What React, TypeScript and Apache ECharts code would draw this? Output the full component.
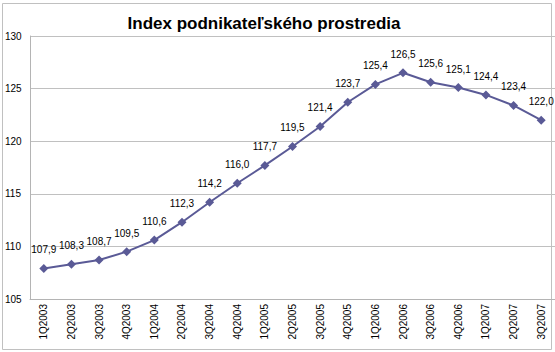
import React, { useEffect, useRef } from "react";
import * as echarts from "echarts";

const categories = [
  "1Q2003", "2Q2003", "3Q2003", "4Q2003",
  "1Q2004", "2Q2004", "3Q2004", "4Q2004",
  "1Q2005", "2Q2005", "3Q2005", "4Q2005",
  "1Q2006", "2Q2006", "3Q2006", "4Q2006",
  "1Q2007", "2Q2007", "3Q2007",
];
const indexValues = [
  107.9, 108.3, 108.7, 109.5,
  110.6, 112.3, 114.2, 116.0,
  117.7, 119.5, 121.4, 123.7,
  125.4, 126.5, 125.6, 125.1,
  124.4, 123.4, 122.0,
];
const titleText = "Index podnikateľského prostredia";

const FONT = "'Liberation Sans', Arial, sans-serif";

export default function App() {
  const ref = useRef<HTMLDivElement>(null);
  useEffect(() => {
    document.body.style.margin = "0";
    if (!ref.current) return;
    const chart = echarts.init(ref.current, undefined, { renderer: "svg" });
    chart.setOption({
      animation: false,
      backgroundColor: "#ffffff",
      title: {
        text: titleText,
        left: 259,
        textAlign: "center",
        top: 10,
        textStyle: { fontFamily: FONT, fontSize: 17, fontWeight: "bold", color: "#000" },
      },
      graphic: [
        {
          type: "rect",
          z: -10,
          shape: { x: 2.5, y: 3.5, width: 549, height: 346 },
          style: { fill: "none", stroke: "#c0c0c0", lineWidth: 1 },
        },
      ],
      grid: { left: 30, top: 36, bottom: 53, width: 527 },
      xAxis: {
        type: "category",
        data: categories,
        boundaryGap: true,
        axisLine: { show: true, lineStyle: { color: "#b4b4b4", width: 1 } },
        axisTick: { show: false },
        axisLabel: {
          rotate: 90,
          margin: 5,
          interval: 0,
          fontFamily: FONT,
          fontSize: 10,
          color: "#000",
        },
      },
      yAxis: {
        type: "value",
        min: 105,
        max: 130,
        interval: 5,
        axisLine: { show: true, lineStyle: { color: "#b4b4b4", width: 1 } },
        axisTick: { show: false },
        splitLine: { show: true, lineStyle: { color: "#c0c0c0", width: 1 } },
        axisLabel: {
          align: "left",
          margin: 25,
          fontFamily: FONT,
          fontSize: 10,
          color: "#000",
        },
      },
      series: [
        {
          type: "line",
          data: indexValues,
          symbol: "diamond",
          symbolSize: 9,
          lineStyle: { color: "#5a5a96", width: 2 },
          itemStyle: { color: "#5a5a96" },
          label: {
            show: true,
            position: "top",
            distance: 9,
            fontFamily: FONT,
            fontSize: 10,
            color: "#000",
            formatter: (p: any) => Number(p.value).toFixed(1).replace(".", ","),
          },
        },
      ],
    });
    return () => chart.dispose();
  }, []);
  return <div ref={ref} style={{ width: 555, height: 352 }} />;
}
